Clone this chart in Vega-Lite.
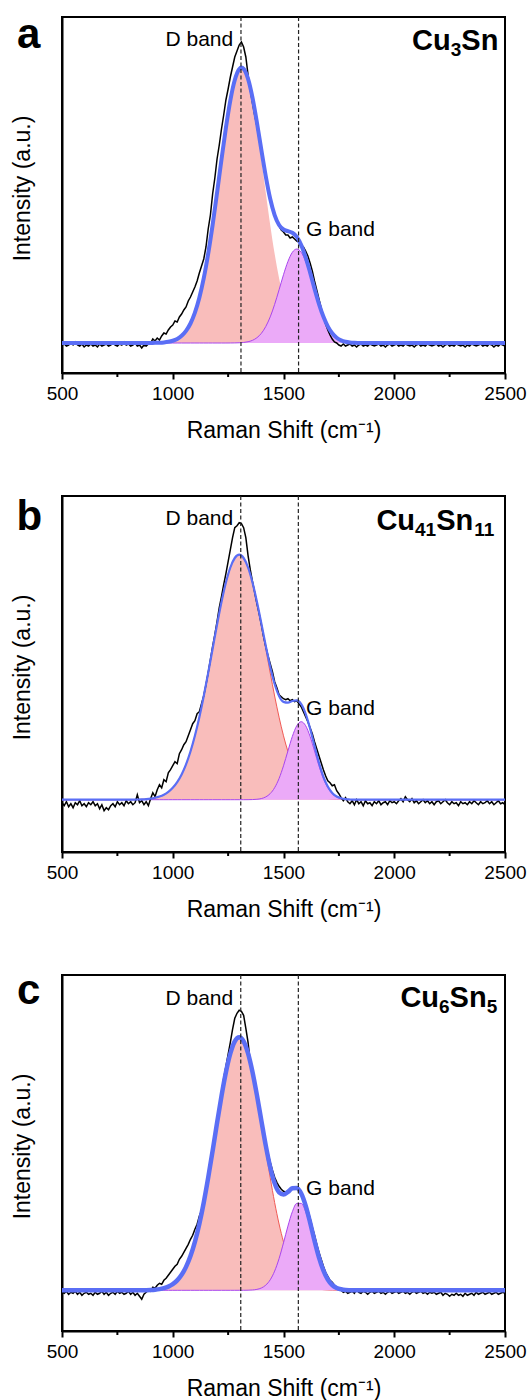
{
"$schema": "https://vega.github.io/schema/vega-lite/v6.json",
"padding": {"left": 10, "top": 13, "right": 5, "bottom": 5},
"background": "white",
"config": {
  "view": {"stroke": "black", "strokeWidth": 2},
  "font": "Liberation Sans",
  "numberFormat": "d",
  "axisX": {"grid": false, "tickCount": 4, "tickSize": 6, "tickWidth": 2, "tickColor": "black", "domainColor": "black", "domainWidth": 2, "labelFont": "Liberation Sans", "labelFontSize": 19, "labelColor": "black", "labelFlush": false, "labelOverlap": false, "labelPadding": 5, "titleFont": "Liberation Sans", "titleFontSize": 23, "titleFontWeight": "normal", "titleColor": "black", "titleBaseline": "alphabetic", "titleY": 64},
  "axisY": {"grid": false, "labels": false, "ticks": false, "domainColor": "black", "domainWidth": 2, "titleFont": "Liberation Sans", "titleFontSize": 23, "titleFontWeight": "normal", "titleColor": "black", "titleBaseline": "alphabetic", "titleX": -33, "titleY": 171}
},
"datasets": {
"a_raw": [{"x":500,"y":-2},{"x":510,"y":-1},{"x":520,"y":-3},{"x":530,"y":-2},{"x":540,"y":0},{"x":550,"y":-2},{"x":560,"y":1},{"x":570,"y":-2},{"x":580,"y":-3},{"x":590,"y":-1},{"x":600,"y":-4},{"x":610,"y":-2},{"x":620,"y":-3},{"x":630,"y":-1},{"x":640,"y":-3},{"x":650,"y":-2},{"x":660,"y":-4},{"x":670,"y":-1},{"x":680,"y":-3},{"x":690,"y":-2},{"x":700,"y":-1},{"x":710,"y":-3},{"x":720,"y":-2},{"x":730,"y":0},{"x":740,"y":-2},{"x":750,"y":-3},{"x":760,"y":-1},{"x":770,"y":-2},{"x":780,"y":1},{"x":790,"y":-2},{"x":800,"y":-1},{"x":810,"y":-3},{"x":820,"y":-2},{"x":830,"y":0},{"x":840,"y":-3},{"x":850,"y":-2},{"x":860,"y":-5},{"x":870,"y":-2},{"x":880,"y":-3},{"x":890,"y":-1},{"x":900,"y":0},{"x":910,"y":4},{"x":920,"y":2},{"x":930,"y":5},{"x":940,"y":3},{"x":950,"y":7},{"x":960,"y":10},{"x":970,"y":9},{"x":980,"y":13},{"x":990,"y":16},{"x":1000,"y":18},{"x":1010,"y":22},{"x":1020,"y":21},{"x":1030,"y":26},{"x":1040,"y":29},{"x":1050,"y":33},{"x":1060,"y":36},{"x":1070,"y":42},{"x":1080,"y":46},{"x":1090,"y":51},{"x":1100,"y":56},{"x":1110,"y":62},{"x":1120,"y":70},{"x":1130,"y":77},{"x":1140,"y":84},{"x":1150,"y":96},{"x":1160,"y":114},{"x":1170,"y":128},{"x":1180,"y":149},{"x":1190,"y":165},{"x":1200,"y":184},{"x":1210,"y":198},{"x":1220,"y":214},{"x":1230,"y":228},{"x":1240,"y":243},{"x":1250,"y":254},{"x":1260,"y":266},{"x":1270,"y":276},{"x":1280,"y":286},{"x":1290,"y":292},{"x":1300,"y":298},{"x":1310,"y":301},{"x":1320,"y":296},{"x":1330,"y":286},{"x":1340,"y":268},{"x":1350,"y":253},{"x":1360,"y":240},{"x":1370,"y":228},{"x":1380,"y":217},{"x":1390,"y":204},{"x":1400,"y":191},{"x":1410,"y":178},{"x":1420,"y":166},{"x":1430,"y":155},{"x":1440,"y":146},{"x":1450,"y":136},{"x":1460,"y":128},{"x":1470,"y":122},{"x":1480,"y":117},{"x":1490,"y":113},{"x":1500,"y":111},{"x":1510,"y":108},{"x":1520,"y":108},{"x":1530,"y":105},{"x":1540,"y":106},{"x":1550,"y":104},{"x":1560,"y":102},{"x":1570,"y":101},{"x":1580,"y":98},{"x":1590,"y":96},{"x":1600,"y":92},{"x":1610,"y":87},{"x":1620,"y":80},{"x":1630,"y":72},{"x":1640,"y":62},{"x":1650,"y":53},{"x":1660,"y":44},{"x":1670,"y":35},{"x":1680,"y":27},{"x":1690,"y":19},{"x":1700,"y":13},{"x":1710,"y":8},{"x":1720,"y":4},{"x":1730,"y":1},{"x":1740,"y":0},{"x":1750,"y":-2},{"x":1760,"y":-3},{"x":1770,"y":-1},{"x":1780,"y":-3},{"x":1790,"y":-2},{"x":1800,"y":-1},{"x":1810,"y":-3},{"x":1820,"y":-2},{"x":1830,"y":-4},{"x":1840,"y":-2},{"x":1850,"y":-1},{"x":1860,"y":-3},{"x":1870,"y":-2},{"x":1880,"y":-3},{"x":1890,"y":-1},{"x":1900,"y":-2},{"x":1910,"y":-3},{"x":1920,"y":-2},{"x":1930,"y":-1},{"x":1940,"y":-3},{"x":1950,"y":-2},{"x":1960,"y":-4},{"x":1970,"y":-2},{"x":1980,"y":-1},{"x":1990,"y":-3},{"x":2000,"y":-2},{"x":2010,"y":-1},{"x":2020,"y":-3},{"x":2030,"y":-2},{"x":2040,"y":-3},{"x":2050,"y":-1},{"x":2060,"y":-2},{"x":2070,"y":-3},{"x":2080,"y":-2},{"x":2090,"y":-4},{"x":2100,"y":-2},{"x":2110,"y":-1},{"x":2120,"y":-3},{"x":2130,"y":-2},{"x":2140,"y":-3},{"x":2150,"y":-1},{"x":2160,"y":-2},{"x":2170,"y":-3},{"x":2180,"y":-2},{"x":2190,"y":-1},{"x":2200,"y":-3},{"x":2210,"y":-2},{"x":2220,"y":-4},{"x":2230,"y":-2},{"x":2240,"y":-1},{"x":2250,"y":-3},{"x":2260,"y":-2},{"x":2270,"y":-3},{"x":2280,"y":-1},{"x":2290,"y":-2},{"x":2300,"y":-3},{"x":2310,"y":-2},{"x":2320,"y":-4},{"x":2330,"y":-2},{"x":2340,"y":-3},{"x":2350,"y":-1},{"x":2360,"y":-2},{"x":2370,"y":-3},{"x":2380,"y":-2},{"x":2390,"y":-1},{"x":2400,"y":-3},{"x":2410,"y":-2},{"x":2420,"y":-3},{"x":2430,"y":-1},{"x":2440,"y":-2},{"x":2450,"y":-4},{"x":2460,"y":-2},{"x":2470,"y":-3},{"x":2480,"y":-1},{"x":2490,"y":-2},{"x":2500,"y":-3}],
"b_raw": [{"x":500,"y":-3},{"x":510,"y":-6},{"x":520,"y":-2},{"x":530,"y":-7},{"x":540,"y":-4},{"x":550,"y":-8},{"x":560,"y":-3},{"x":570,"y":-5},{"x":580,"y":-1},{"x":590,"y":-6},{"x":600,"y":-4},{"x":610,"y":-7},{"x":620,"y":-3},{"x":630,"y":-5},{"x":640,"y":-2},{"x":650,"y":-6},{"x":660,"y":-4},{"x":670,"y":-9},{"x":680,"y":-5},{"x":690,"y":-11},{"x":700,"y":-8},{"x":710,"y":-10},{"x":720,"y":-6},{"x":730,"y":-4},{"x":740,"y":-7},{"x":750,"y":-2},{"x":760,"y":-5},{"x":770,"y":-3},{"x":780,"y":-6},{"x":790,"y":-1},{"x":800,"y":-4},{"x":810,"y":-2},{"x":820,"y":-5},{"x":830,"y":-3},{"x":840,"y":5},{"x":850,"y":-3},{"x":860,"y":-1},{"x":870,"y":-5},{"x":880,"y":-2},{"x":890,"y":-6},{"x":900,"y":1},{"x":910,"y":7},{"x":920,"y":3},{"x":930,"y":10},{"x":940,"y":15},{"x":950,"y":12},{"x":960,"y":20},{"x":970,"y":18},{"x":980,"y":27},{"x":990,"y":30},{"x":1000,"y":34},{"x":1010,"y":38},{"x":1020,"y":36},{"x":1030,"y":46},{"x":1040,"y":50},{"x":1050,"y":55},{"x":1060,"y":58},{"x":1070,"y":64},{"x":1080,"y":70},{"x":1090,"y":76},{"x":1100,"y":79},{"x":1110,"y":86},{"x":1120,"y":88},{"x":1130,"y":96},{"x":1140,"y":104},{"x":1150,"y":115},{"x":1160,"y":127},{"x":1170,"y":140},{"x":1180,"y":153},{"x":1190,"y":165},{"x":1200,"y":178},{"x":1210,"y":192},{"x":1220,"y":203},{"x":1230,"y":215},{"x":1240,"y":226},{"x":1250,"y":238},{"x":1260,"y":250},{"x":1270,"y":262},{"x":1280,"y":272},{"x":1290,"y":274},{"x":1300,"y":277},{"x":1310,"y":276},{"x":1320,"y":272},{"x":1330,"y":262},{"x":1340,"y":244},{"x":1350,"y":230},{"x":1360,"y":218},{"x":1370,"y":207},{"x":1380,"y":196},{"x":1390,"y":186},{"x":1400,"y":175},{"x":1410,"y":163},{"x":1420,"y":153},{"x":1430,"y":144},{"x":1440,"y":136},{"x":1450,"y":128},{"x":1460,"y":118},{"x":1470,"y":112},{"x":1480,"y":105},{"x":1490,"y":103},{"x":1500,"y":101},{"x":1510,"y":100},{"x":1520,"y":101},{"x":1530,"y":99},{"x":1540,"y":100},{"x":1550,"y":98},{"x":1560,"y":99},{"x":1570,"y":96},{"x":1580,"y":93},{"x":1590,"y":88},{"x":1600,"y":83},{"x":1610,"y":78},{"x":1620,"y":72},{"x":1630,"y":66},{"x":1640,"y":58},{"x":1650,"y":51},{"x":1660,"y":44},{"x":1670,"y":37},{"x":1680,"y":30},{"x":1690,"y":24},{"x":1700,"y":19},{"x":1710,"y":17},{"x":1720,"y":14},{"x":1730,"y":15},{"x":1740,"y":9},{"x":1750,"y":6},{"x":1760,"y":2},{"x":1770,"y":-1},{"x":1780,"y":2},{"x":1790,"y":-2},{"x":1800,"y":-4},{"x":1810,"y":-1},{"x":1820,"y":-5},{"x":1830,"y":0},{"x":1840,"y":-4},{"x":1850,"y":-2},{"x":1860,"y":-6},{"x":1870,"y":-1},{"x":1880,"y":-4},{"x":1890,"y":-3},{"x":1900,"y":-6},{"x":1910,"y":-2},{"x":1920,"y":-4},{"x":1930,"y":-1},{"x":1940,"y":-5},{"x":1950,"y":-3},{"x":1960,"y":-2},{"x":1970,"y":-5},{"x":1980,"y":-1},{"x":1990,"y":-3},{"x":2000,"y":-2},{"x":2010,"y":-4},{"x":2020,"y":-1},{"x":2030,"y":1},{"x":2040,"y":-2},{"x":2050,"y":3},{"x":2060,"y":0},{"x":2070,"y":-2},{"x":2080,"y":1},{"x":2090,"y":-3},{"x":2100,"y":-1},{"x":2110,"y":-4},{"x":2120,"y":-2},{"x":2130,"y":0},{"x":2140,"y":-3},{"x":2150,"y":-1},{"x":2160,"y":-4},{"x":2170,"y":-2},{"x":2180,"y":-5},{"x":2190,"y":-2},{"x":2200,"y":-1},{"x":2210,"y":-4},{"x":2220,"y":-2},{"x":2230,"y":0},{"x":2240,"y":-3},{"x":2250,"y":-5},{"x":2260,"y":-2},{"x":2270,"y":-4},{"x":2280,"y":-3},{"x":2290,"y":-6},{"x":2300,"y":-2},{"x":2310,"y":-4},{"x":2320,"y":-3},{"x":2330,"y":-5},{"x":2340,"y":-2},{"x":2350,"y":-4},{"x":2360,"y":-1},{"x":2370,"y":-3},{"x":2380,"y":-5},{"x":2390,"y":-2},{"x":2400,"y":-4},{"x":2410,"y":-3},{"x":2420,"y":-1},{"x":2430,"y":-4},{"x":2440,"y":-2},{"x":2450,"y":-5},{"x":2460,"y":-3},{"x":2470,"y":-1},{"x":2480,"y":-4},{"x":2490,"y":-3},{"x":2500,"y":-5}],
"c_raw": [{"x":500,"y":-2},{"x":510,"y":-3},{"x":520,"y":-1},{"x":530,"y":-4},{"x":540,"y":-2},{"x":550,"y":-3},{"x":560,"y":-1},{"x":570,"y":-4},{"x":580,"y":-2},{"x":590,"y":-5},{"x":600,"y":-3},{"x":610,"y":-2},{"x":620,"y":-4},{"x":630,"y":-3},{"x":640,"y":-5},{"x":650,"y":-2},{"x":660,"y":-4},{"x":670,"y":-3},{"x":680,"y":-1},{"x":690,"y":-4},{"x":700,"y":-2},{"x":710,"y":-5},{"x":720,"y":-3},{"x":730,"y":-2},{"x":740,"y":-4},{"x":750,"y":-1},{"x":760,"y":-3},{"x":770,"y":-2},{"x":780,"y":-4},{"x":790,"y":-3},{"x":800,"y":-1},{"x":810,"y":-4},{"x":820,"y":-2},{"x":830,"y":-5},{"x":840,"y":-3},{"x":850,"y":-6},{"x":860,"y":-9},{"x":870,"y":-4},{"x":880,"y":-2},{"x":890,"y":0},{"x":900,"y":-1},{"x":910,"y":3},{"x":920,"y":2},{"x":930,"y":5},{"x":940,"y":7},{"x":950,"y":6},{"x":960,"y":10},{"x":970,"y":12},{"x":980,"y":15},{"x":990,"y":18},{"x":1000,"y":21},{"x":1010,"y":24},{"x":1020,"y":26},{"x":1030,"y":31},{"x":1040,"y":34},{"x":1050,"y":38},{"x":1060,"y":42},{"x":1070,"y":46},{"x":1080,"y":51},{"x":1090,"y":55},{"x":1100,"y":61},{"x":1110,"y":66},{"x":1120,"y":74},{"x":1130,"y":80},{"x":1140,"y":89},{"x":1150,"y":101},{"x":1160,"y":114},{"x":1170,"y":127},{"x":1180,"y":141},{"x":1190,"y":156},{"x":1200,"y":170},{"x":1210,"y":184},{"x":1220,"y":198},{"x":1230,"y":212},{"x":1240,"y":224},{"x":1250,"y":236},{"x":1260,"y":248},{"x":1270,"y":261},{"x":1280,"y":272},{"x":1290,"y":277},{"x":1300,"y":280},{"x":1310,"y":279},{"x":1320,"y":275},{"x":1330,"y":262},{"x":1340,"y":248},{"x":1350,"y":228},{"x":1360,"y":218},{"x":1370,"y":206},{"x":1380,"y":195},{"x":1390,"y":183},{"x":1400,"y":170},{"x":1410,"y":158},{"x":1420,"y":147},{"x":1430,"y":137},{"x":1440,"y":128},{"x":1450,"y":120},{"x":1460,"y":113},{"x":1470,"y":108},{"x":1480,"y":104},{"x":1490,"y":101},{"x":1500,"y":99},{"x":1510,"y":98},{"x":1520,"y":99},{"x":1530,"y":100},{"x":1540,"y":101},{"x":1550,"y":102},{"x":1560,"y":101},{"x":1570,"y":100},{"x":1580,"y":97},{"x":1590,"y":93},{"x":1600,"y":87},{"x":1610,"y":80},{"x":1620,"y":72},{"x":1630,"y":63},{"x":1640,"y":55},{"x":1650,"y":46},{"x":1660,"y":38},{"x":1670,"y":31},{"x":1680,"y":24},{"x":1690,"y":18},{"x":1700,"y":14},{"x":1710,"y":10},{"x":1720,"y":8},{"x":1730,"y":5},{"x":1740,"y":3},{"x":1750,"y":1},{"x":1760,"y":0},{"x":1770,"y":-2},{"x":1780,"y":-1},{"x":1790,"y":-3},{"x":1800,"y":-2},{"x":1810,"y":-1},{"x":1820,"y":-3},{"x":1830,"y":1},{"x":1840,"y":-2},{"x":1850,"y":-3},{"x":1860,"y":-1},{"x":1870,"y":-2},{"x":1880,"y":-4},{"x":1890,"y":-2},{"x":1900,"y":-1},{"x":1910,"y":-3},{"x":1920,"y":-2},{"x":1930,"y":-1},{"x":1940,"y":-3},{"x":1950,"y":-2},{"x":1960,"y":-4},{"x":1970,"y":-2},{"x":1980,"y":-1},{"x":1990,"y":-3},{"x":2000,"y":-2},{"x":2010,"y":-1},{"x":2020,"y":-3},{"x":2030,"y":-2},{"x":2040,"y":-1},{"x":2050,"y":-3},{"x":2060,"y":-2},{"x":2070,"y":-4},{"x":2080,"y":-2},{"x":2090,"y":-1},{"x":2100,"y":-3},{"x":2110,"y":-2},{"x":2120,"y":-1},{"x":2130,"y":-3},{"x":2140,"y":-2},{"x":2150,"y":-4},{"x":2160,"y":-2},{"x":2170,"y":-3},{"x":2180,"y":-2},{"x":2190,"y":-4},{"x":2200,"y":-3},{"x":2210,"y":-2},{"x":2220,"y":-5},{"x":2230,"y":-3},{"x":2240,"y":-4},{"x":2250,"y":-6},{"x":2260,"y":-4},{"x":2270,"y":-5},{"x":2280,"y":-3},{"x":2290,"y":-5},{"x":2300,"y":-4},{"x":2310,"y":-6},{"x":2320,"y":-3},{"x":2330,"y":-5},{"x":2340,"y":-4},{"x":2350,"y":-3},{"x":2360,"y":-5},{"x":2370,"y":-2},{"x":2380,"y":-4},{"x":2390,"y":-3},{"x":2400,"y":-2},{"x":2410,"y":-4},{"x":2420,"y":-3},{"x":2430,"y":-2},{"x":2440,"y":-4},{"x":2450,"y":-3},{"x":2460,"y":-2},{"x":2470,"y":-4},{"x":2480,"y":-3},{"x":2490,"y":-2},{"x":2500,"y":-3}],
"a_fit": [{"x":500,"d":0,"g":0,"fit":0},{"x":600,"d":0,"g":0,"fit":0},{"x":700,"d":0,"g":0,"fit":0},{"x":800,"d":0,"g":0,"fit":0},{"x":860,"d":0,"g":0,"fit":0},{"x":880,"d":0.03,"g":0,"fit":0.03},{"x":900,"d":0.06,"g":0,"fit":0.06},{"x":920,"d":0.14,"g":0,"fit":0.14},{"x":940,"d":0.29,"g":0,"fit":0.29},{"x":960,"d":0.6,"g":0,"fit":0.6},{"x":980,"d":1.19,"g":0,"fit":1.19},{"x":1000,"d":2.25,"g":0,"fit":2.25},{"x":1020,"d":4.1,"g":0,"fit":4.1},{"x":1040,"d":7.18,"g":0,"fit":7.18},{"x":1060,"d":12.1,"g":0,"fit":12.1},{"x":1080,"d":19.5,"g":0,"fit":19.5},{"x":1100,"d":30.3,"g":0,"fit":30.3},{"x":1120,"d":45.2,"g":0,"fit":45.2},{"x":1140,"d":64.8,"g":0,"fit":64.8},{"x":1160,"d":89.3,"g":0,"fit":89.3},{"x":1180,"d":118.1,"g":0,"fit":118.1},{"x":1200,"d":150.2,"g":0,"fit":150.2},{"x":1220,"d":183.4,"g":0,"fit":183.4},{"x":1240,"d":215.2,"g":0,"fit":215.2},{"x":1260,"d":242.7,"g":0.03,"fit":242.7},{"x":1280,"d":262.9,"g":0.09,"fit":263},{"x":1300,"d":273.6,"g":0.23,"fit":273.8},{"x":1310,"d":275,"g":0.36,"fit":275.4},{"x":1320,"d":273.6,"g":0.56,"fit":274.2},{"x":1340,"d":262.9,"g":1.27,"fit":264.2},{"x":1360,"d":242.7,"g":2.68,"fit":245.4},{"x":1380,"d":215.2,"g":5.27,"fit":220.5},{"x":1400,"d":183.4,"g":9.65,"fit":193.1},{"x":1420,"d":150.2,"g":16.5,"fit":166.7},{"x":1440,"d":118.1,"g":26.1,"fit":144.2},{"x":1460,"d":89.3,"g":38.6,"fit":127.9},{"x":1480,"d":64.8,"g":53.2,"fit":118},{"x":1500,"d":45.2,"g":68.3,"fit":113.5},{"x":1520,"d":30.3,"g":81.5,"fit":111.8},{"x":1540,"d":19.5,"g":90.7,"fit":110.2},{"x":1560,"d":12.1,"g":94,"fit":106.1},{"x":1580,"d":7.18,"g":90.7,"fit":97.9},{"x":1600,"d":4.1,"g":81.5,"fit":85.6},{"x":1620,"d":2.25,"g":68.3,"fit":70.6},{"x":1640,"d":1.19,"g":53.2,"fit":54.4},{"x":1660,"d":0.6,"g":38.6,"fit":39.2},{"x":1680,"d":0.29,"g":26.1,"fit":26.4},{"x":1700,"d":0.14,"g":16.5,"fit":16.6},{"x":1720,"d":0.06,"g":9.65,"fit":9.7},{"x":1740,"d":0.03,"g":5.27,"fit":5.3},{"x":1760,"d":0,"g":2.68,"fit":2.68},{"x":1780,"d":0,"g":1.27,"fit":1.27},{"x":1800,"d":0,"g":0.56,"fit":0.56},{"x":1820,"d":0,"g":0.23,"fit":0.23},{"x":1840,"d":0,"g":0.09,"fit":0.09},{"x":1860,"d":0,"g":0,"fit":0},{"x":1900,"d":0,"g":0,"fit":0},{"x":2000,"d":0,"g":0,"fit":0},{"x":2100,"d":0,"g":0,"fit":0},{"x":2200,"d":0,"g":0,"fit":0},{"x":2300,"d":0,"g":0,"fit":0},{"x":2400,"d":0,"g":0,"fit":0},{"x":2500,"d":0,"g":0,"fit":0}],
"b_fit": [{"x":500,"d":0,"g":0,"fit":0},{"x":600,"d":0,"g":0,"fit":0},{"x":700,"d":0,"g":0,"fit":0},{"x":780,"d":0,"g":0,"fit":0},{"x":800,"d":0.05,"g":0,"fit":0.05},{"x":820,"d":0.11,"g":0,"fit":0.11},{"x":840,"d":0.2,"g":0,"fit":0.2},{"x":860,"d":0.37,"g":0,"fit":0.37},{"x":880,"d":0.65,"g":0,"fit":0.65},{"x":900,"d":1.13,"g":0,"fit":1.13},{"x":920,"d":1.92,"g":0,"fit":1.92},{"x":940,"d":3.15,"g":0,"fit":3.15},{"x":960,"d":5.04,"g":0,"fit":5.04},{"x":980,"d":7.86,"g":0,"fit":7.86},{"x":1000,"d":11.9,"g":0,"fit":11.9},{"x":1020,"d":17.6,"g":0,"fit":17.6},{"x":1040,"d":25.3,"g":0,"fit":25.3},{"x":1060,"d":35.4,"g":0,"fit":35.4},{"x":1080,"d":48.2,"g":0,"fit":48.2},{"x":1100,"d":63.9,"g":0,"fit":63.9},{"x":1120,"d":82.5,"g":0,"fit":82.5},{"x":1140,"d":103.7,"g":0,"fit":103.7},{"x":1160,"d":126.8,"g":0,"fit":126.8},{"x":1180,"d":151,"g":0,"fit":151},{"x":1200,"d":175.1,"g":0,"fit":175.1},{"x":1220,"d":197.6,"g":0,"fit":197.6},{"x":1240,"d":217.1,"g":0,"fit":217.1},{"x":1260,"d":232.2,"g":0,"fit":232.2},{"x":1280,"d":241.7,"g":0,"fit":241.7},{"x":1300,"d":245,"g":0,"fit":245},{"x":1320,"d":241.7,"g":0,"fit":241.7},{"x":1340,"d":232.2,"g":0.04,"fit":232.2},{"x":1360,"d":217.1,"g":0.14,"fit":217.2},{"x":1380,"d":197.6,"g":0.43,"fit":198},{"x":1400,"d":175.1,"g":1.15,"fit":176.3},{"x":1420,"d":151,"g":2.79,"fit":153.8},{"x":1440,"d":126.8,"g":6.09,"fit":132.9},{"x":1460,"d":103.7,"g":12,"fit":115.7},{"x":1480,"d":82.5,"g":21.2,"fit":103.7},{"x":1500,"d":63.9,"g":33.9,"fit":97.8},{"x":1520,"d":48.2,"g":48.8,"fit":97},{"x":1540,"d":35.4,"g":63.3,"fit":98.7},{"x":1560,"d":25.3,"g":74,"fit":99.3},{"x":1580,"d":17.6,"g":78,"fit":95.6},{"x":1600,"d":11.9,"g":74,"fit":85.9},{"x":1620,"d":7.86,"g":63.3,"fit":71.2},{"x":1640,"d":5.04,"g":48.8,"fit":53.8},{"x":1660,"d":3.15,"g":33.9,"fit":37.1},{"x":1680,"d":1.92,"g":21.2,"fit":23.1},{"x":1700,"d":1.13,"g":12,"fit":13.1},{"x":1720,"d":0.65,"g":6.09,"fit":6.7},{"x":1740,"d":0.37,"g":2.79,"fit":3.2},{"x":1760,"d":0.2,"g":1.15,"fit":1.4},{"x":1780,"d":0.11,"g":0.43,"fit":0.5},{"x":1800,"d":0.05,"g":0.14,"fit":0.2},{"x":1820,"d":0.02,"g":0.04,"fit":0.1},{"x":1840,"d":0,"g":0,"fit":0},{"x":1900,"d":0,"g":0,"fit":0},{"x":2000,"d":0,"g":0,"fit":0},{"x":2100,"d":0,"g":0,"fit":0},{"x":2200,"d":0,"g":0,"fit":0},{"x":2300,"d":0,"g":0,"fit":0},{"x":2400,"d":0,"g":0,"fit":0},{"x":2500,"d":0,"g":0,"fit":0}],
"c_fit": [{"x":500,"d":0,"g":0,"fit":0},{"x":600,"d":0,"g":0,"fit":0},{"x":700,"d":0,"g":0,"fit":0},{"x":800,"d":0,"g":0,"fit":0},{"x":820,"d":0,"g":0,"fit":0},{"x":840,"d":0.04,"g":0,"fit":0.04},{"x":860,"d":0.08,"g":0,"fit":0.08},{"x":880,"d":0.17,"g":0,"fit":0.17},{"x":900,"d":0.34,"g":0,"fit":0.34},{"x":920,"d":0.65,"g":0,"fit":0.65},{"x":940,"d":1.19,"g":0,"fit":1.19},{"x":960,"d":2.13,"g":0,"fit":2.13},{"x":980,"d":3.68,"g":0,"fit":3.68},{"x":1000,"d":6.14,"g":0,"fit":6.14},{"x":1020,"d":9.91,"g":0,"fit":9.91},{"x":1040,"d":15.5,"g":0,"fit":15.5},{"x":1060,"d":23.4,"g":0,"fit":23.4},{"x":1080,"d":34.2,"g":0,"fit":34.2},{"x":1100,"d":48.4,"g":0,"fit":48.4},{"x":1120,"d":66.3,"g":0,"fit":66.3},{"x":1140,"d":87.8,"g":0,"fit":87.8},{"x":1160,"d":112.6,"g":0,"fit":112.6},{"x":1180,"d":139.5,"g":0,"fit":139.5},{"x":1200,"d":167.4,"g":0,"fit":167.4},{"x":1220,"d":194.2,"g":0,"fit":194.2},{"x":1240,"d":218,"g":0,"fit":218},{"x":1260,"d":236.8,"g":0,"fit":236.8},{"x":1280,"d":248.9,"g":0,"fit":248.9},{"x":1300,"d":253,"g":0.01,"fit":253},{"x":1320,"d":248.9,"g":0.03,"fit":248.9},{"x":1340,"d":236.8,"g":0.11,"fit":236.9},{"x":1360,"d":218,"g":0.34,"fit":218.3},{"x":1380,"d":194.2,"g":0.93,"fit":195.1},{"x":1400,"d":167.4,"g":2.31,"fit":169.7},{"x":1420,"d":139.5,"g":5.17,"fit":144.7},{"x":1440,"d":112.6,"g":10.5,"fit":123.1},{"x":1460,"d":87.8,"g":19.2,"fit":107},{"x":1480,"d":66.3,"g":31.7,"fit":98},{"x":1500,"d":48.4,"g":47.5,"fit":95.9},{"x":1520,"d":34.2,"g":64.2,"fit":98.4},{"x":1540,"d":23.4,"g":78.6,"fit":102},{"x":1560,"d":15.5,"g":86.9,"fit":102.4},{"x":1580,"d":9.91,"g":86.9,"fit":96.8},{"x":1600,"d":6.14,"g":78.6,"fit":84.7},{"x":1620,"d":3.68,"g":64.2,"fit":67.9},{"x":1640,"d":2.13,"g":47.5,"fit":49.6},{"x":1660,"d":1.19,"g":31.7,"fit":32.9},{"x":1680,"d":0.65,"g":19.2,"fit":19.9},{"x":1700,"d":0.34,"g":10.5,"fit":10.8},{"x":1720,"d":0.17,"g":5.17,"fit":5.3},{"x":1740,"d":0.08,"g":2.31,"fit":2.4},{"x":1760,"d":0.04,"g":0.93,"fit":1},{"x":1780,"d":0,"g":0.34,"fit":0.3},{"x":1800,"d":0,"g":0.11,"fit":0.1},{"x":1820,"d":0,"g":0.03,"fit":0},{"x":1840,"d":0,"g":0,"fit":0},{"x":1900,"d":0,"g":0,"fit":0},{"x":2000,"d":0,"g":0,"fit":0},{"x":2100,"d":0,"g":0,"fit":0},{"x":2200,"d":0,"g":0,"fit":0},{"x":2300,"d":0,"g":0,"fit":0},{"x":2400,"d":0,"g":0,"fit":0},{"x":2500,"d":0,"g":0,"fit":0}],
"minor": [{"x":750},{"x":1250},{"x":1750},{"x":2250}]
},
"spacing": 123,
"bounds": "flush",
"vconcat": [
{
 "width": 443, "height": 356,
 "layer": [
  {"data": {"name": "a_fit"}, "mark": {"type": "area", "color": "#F9BDBB", "opacity": 1, "interpolate": "monotone"}, "encoding": {"x": {"field": "x", "type": "quantitative", "scale": {"domain": [500, 2500], "nice": false, "zero": false}, "title": "Raman Shift (cm\u207B\u00B9)"}, "y": {"field": "d", "type": "quantitative", "scale": {"domain": [-30, 326], "nice": false, "zero": false}, "title": "Intensity (a.u.)"}, "y2": {"datum": 0}}},
  {"data": {"name": "a_fit"}, "mark": {"type": "area", "color": "#EBAAF8", "opacity": 1, "interpolate": "monotone", "line": {"color": "#A845EE", "strokeWidth": 1}}, "encoding": {"x": {"field": "x", "type": "quantitative", "scale": {"domain": [500, 2500], "nice": false, "zero": false}, "title": "Raman Shift (cm\u207B\u00B9)"}, "y": {"field": "g", "type": "quantitative", "scale": {"domain": [-30, 326], "nice": false, "zero": false}, "title": "Intensity (a.u.)"}, "y2": {"datum": 0}}},
  {"data": {"name": "a_raw"}, "mark": {"type": "line", "color": "black", "strokeWidth": 1.5}, "encoding": {"x": {"field": "x", "type": "quantitative", "scale": {"domain": [500, 2500], "nice": false, "zero": false}, "title": "Raman Shift (cm\u207B\u00B9)"}, "y": {"field": "y", "type": "quantitative", "scale": {"domain": [-30, 326], "nice": false, "zero": false}, "title": "Intensity (a.u.)"}}},
  {"data": {"name": "a_fit"}, "mark": {"type": "line", "color": "#5A6EF5", "strokeWidth": 4, "interpolate": "monotone"}, "encoding": {"x": {"field": "x", "type": "quantitative", "scale": {"domain": [500, 2500], "nice": false, "zero": false}, "title": "Raman Shift (cm\u207B\u00B9)"}, "y": {"field": "fit", "type": "quantitative", "scale": {"domain": [-30, 326], "nice": false, "zero": false}, "title": "Intensity (a.u.)"}}},
  {"data": {"values": [{"x": 1308}, {"x": 1568}]}, "mark": {"type": "rule", "color": "#222222", "strokeWidth": 1.2, "strokeDash": [4, 2.5]}, "encoding": {"x": {"field": "x", "type": "quantitative", "scale": {"domain": [500, 2500], "nice": false, "zero": false}, "title": "Raman Shift (cm\u207B\u00B9)"}}},
  {"data": {"name": "minor"}, "mark": {"type": "rule", "color": "black", "strokeWidth": 2}, "encoding": {"x": {"field": "x", "type": "quantitative", "scale": {"domain": [500, 2500], "nice": false, "zero": false}, "title": "Raman Shift (cm\u207B\u00B9)"}, "y": {"datum": -30, "type": "quantitative", "scale": {"domain": [-30, 326], "nice": false, "zero": false}, "title": "Intensity (a.u.)"}, "y2": {"datum": -34}}},
  {"data": {"values": [{}]}, "mark": {"type": "text", "text": "a", "fontSize": 42, "fontWeight": "bold", "align": "center", "baseline": "alphabetic", "color": "black"}, "encoding": {"x": {"datum": 350, "type": "quantitative", "scale": {"domain": [500, 2500], "nice": false, "zero": false}, "title": "Raman Shift (cm\u207B\u00B9)"}, "y": {"datum": 295, "type": "quantitative", "scale": {"domain": [-30, 326], "nice": false, "zero": false}, "title": "Intensity (a.u.)"}}},
  {"data": {"values": [{}]}, "mark": {"type": "text", "text": "D band", "fontSize": 21, "align": "right", "baseline": "alphabetic", "color": "black"}, "encoding": {"x": {"datum": 1273, "type": "quantitative", "scale": {"domain": [500, 2500], "nice": false, "zero": false}, "title": "Raman Shift (cm\u207B\u00B9)"}, "y": {"datum": 297.3, "type": "quantitative", "scale": {"domain": [-30, 326], "nice": false, "zero": false}, "title": "Intensity (a.u.)"}}},
  {"data": {"values": [{}]}, "mark": {"type": "text", "text": "G band", "fontSize": 21, "align": "left", "baseline": "alphabetic", "color": "black"}, "encoding": {"x": {"datum": 1602, "type": "quantitative", "scale": {"domain": [500, 2500], "nice": false, "zero": false}, "title": "Raman Shift (cm\u207B\u00B9)"}, "y": {"datum": 106.7, "type": "quantitative", "scale": {"domain": [-30, 326], "nice": false, "zero": false}, "title": "Intensity (a.u.)"}}},
  {"data": {"values": [{}]}, "mark": {"type": "text", "text": "Sn", "fontSize": 29, "fontWeight": "bold", "align": "right", "baseline": "alphabetic", "color": "black"}, "encoding": {"x": {"datum": 2470, "type": "quantitative", "scale": {"domain": [500, 2500], "nice": false, "zero": false}, "title": "Raman Shift (cm\u207B\u00B9)"}, "y": {"datum": 293, "type": "quantitative", "scale": {"domain": [-30, 326], "nice": false, "zero": false}, "title": "Intensity (a.u.)"}}},
  {"data": {"values": [{}]}, "mark": {"type": "text", "text": "3", "fontSize": 19, "fontWeight": "bold", "align": "right", "baseline": "alphabetic", "color": "black", "dx": -37, "dy": 6}, "encoding": {"x": {"datum": 2470, "type": "quantitative", "scale": {"domain": [500, 2500], "nice": false, "zero": false}, "title": "Raman Shift (cm\u207B\u00B9)"}, "y": {"datum": 293, "type": "quantitative", "scale": {"domain": [-30, 326], "nice": false, "zero": false}, "title": "Intensity (a.u.)"}}},
  {"data": {"values": [{}]}, "mark": {"type": "text", "text": "Cu", "fontSize": 29, "fontWeight": "bold", "align": "right", "baseline": "alphabetic", "color": "black", "dx": -47.6}, "encoding": {"x": {"datum": 2470, "type": "quantitative", "scale": {"domain": [500, 2500], "nice": false, "zero": false}, "title": "Raman Shift (cm\u207B\u00B9)"}, "y": {"datum": 293, "type": "quantitative", "scale": {"domain": [-30, 326], "nice": false, "zero": false}, "title": "Intensity (a.u.)"}}}
 ]
},
{
 "width": 443, "height": 356,
 "layer": [
  {"data": {"name": "b_fit"}, "mark": {"type": "area", "color": "#F9BDBB", "opacity": 1, "interpolate": "monotone", "line": {"color": "#F05A55", "strokeWidth": 1}}, "encoding": {"x": {"field": "x", "type": "quantitative", "scale": {"domain": [500, 2500], "nice": false, "zero": false}, "title": "Raman Shift (cm\u207B\u00B9)"}, "y": {"field": "d", "type": "quantitative", "scale": {"domain": [-52.3, 303.7], "nice": false, "zero": false}, "title": "Intensity (a.u.)"}, "y2": {"datum": 0}}},
  {"data": {"name": "b_fit"}, "mark": {"type": "area", "color": "#EBAAF8", "opacity": 1, "interpolate": "monotone", "line": {"color": "#A845EE", "strokeWidth": 1}}, "encoding": {"x": {"field": "x", "type": "quantitative", "scale": {"domain": [500, 2500], "nice": false, "zero": false}, "title": "Raman Shift (cm\u207B\u00B9)"}, "y": {"field": "g", "type": "quantitative", "scale": {"domain": [-52.3, 303.7], "nice": false, "zero": false}, "title": "Intensity (a.u.)"}, "y2": {"datum": 0}}},
  {"data": {"name": "b_raw"}, "mark": {"type": "line", "color": "black", "strokeWidth": 1.5}, "encoding": {"x": {"field": "x", "type": "quantitative", "scale": {"domain": [500, 2500], "nice": false, "zero": false}, "title": "Raman Shift (cm\u207B\u00B9)"}, "y": {"field": "y", "type": "quantitative", "scale": {"domain": [-52.3, 303.7], "nice": false, "zero": false}, "title": "Intensity (a.u.)"}}},
  {"data": {"name": "b_fit"}, "mark": {"type": "line", "color": "#5A6EF5", "strokeWidth": 2.2, "interpolate": "monotone"}, "encoding": {"x": {"field": "x", "type": "quantitative", "scale": {"domain": [500, 2500], "nice": false, "zero": false}, "title": "Raman Shift (cm\u207B\u00B9)"}, "y": {"field": "fit", "type": "quantitative", "scale": {"domain": [-52.3, 303.7], "nice": false, "zero": false}, "title": "Intensity (a.u.)"}}},
  {"data": {"values": [{"x": 1307}, {"x": 1567}]}, "mark": {"type": "rule", "color": "#222222", "strokeWidth": 1.2, "strokeDash": [4, 2.5]}, "encoding": {"x": {"field": "x", "type": "quantitative", "scale": {"domain": [500, 2500], "nice": false, "zero": false}, "title": "Raman Shift (cm\u207B\u00B9)"}}},
  {"data": {"name": "minor"}, "mark": {"type": "rule", "color": "black", "strokeWidth": 2}, "encoding": {"x": {"field": "x", "type": "quantitative", "scale": {"domain": [500, 2500], "nice": false, "zero": false}, "title": "Raman Shift (cm\u207B\u00B9)"}, "y": {"datum": -52.3, "type": "quantitative", "scale": {"domain": [-52.3, 303.7], "nice": false, "zero": false}, "title": "Intensity (a.u.)"}, "y2": {"datum": -56.3}}},
  {"data": {"values": [{}]}, "mark": {"type": "text", "text": "b", "fontSize": 42, "fontWeight": "bold", "align": "center", "baseline": "alphabetic", "color": "black"}, "encoding": {"x": {"datum": 352, "type": "quantitative", "scale": {"domain": [500, 2500], "nice": false, "zero": false}, "title": "Raman Shift (cm\u207B\u00B9)"}, "y": {"datum": 269.4, "type": "quantitative", "scale": {"domain": [-52.3, 303.7], "nice": false, "zero": false}, "title": "Intensity (a.u.)"}}},
  {"data": {"values": [{}]}, "mark": {"type": "text", "text": "D band", "fontSize": 21, "align": "right", "baseline": "alphabetic", "color": "black"}, "encoding": {"x": {"datum": 1273, "type": "quantitative", "scale": {"domain": [500, 2500], "nice": false, "zero": false}, "title": "Raman Shift (cm\u207B\u00B9)"}, "y": {"datum": 275, "type": "quantitative", "scale": {"domain": [-52.3, 303.7], "nice": false, "zero": false}, "title": "Intensity (a.u.)"}}},
  {"data": {"values": [{}]}, "mark": {"type": "text", "text": "G band", "fontSize": 21, "align": "left", "baseline": "alphabetic", "color": "black"}, "encoding": {"x": {"datum": 1602, "type": "quantitative", "scale": {"domain": [500, 2500], "nice": false, "zero": false}, "title": "Raman Shift (cm\u207B\u00B9)"}, "y": {"datum": 84.4, "type": "quantitative", "scale": {"domain": [-52.3, 303.7], "nice": false, "zero": false}, "title": "Intensity (a.u.)"}}},
  {"data": {"values": [{}]}, "mark": {"type": "text", "text": "11", "fontSize": 19, "fontWeight": "bold", "align": "right", "baseline": "alphabetic", "color": "black", "dy": 6}, "encoding": {"x": {"datum": 2452, "type": "quantitative", "scale": {"domain": [500, 2500], "nice": false, "zero": false}, "title": "Raman Shift (cm\u207B\u00B9)"}, "y": {"datum": 269.4, "type": "quantitative", "scale": {"domain": [-52.3, 303.7], "nice": false, "zero": false}, "title": "Intensity (a.u.)"}}},
  {"data": {"values": [{}]}, "mark": {"type": "text", "text": "Sn", "fontSize": 29, "fontWeight": "bold", "align": "right", "baseline": "alphabetic", "color": "black", "dx": -21.1}, "encoding": {"x": {"datum": 2452, "type": "quantitative", "scale": {"domain": [500, 2500], "nice": false, "zero": false}, "title": "Raman Shift (cm\u207B\u00B9)"}, "y": {"datum": 269.4, "type": "quantitative", "scale": {"domain": [-52.3, 303.7], "nice": false, "zero": false}, "title": "Intensity (a.u.)"}}},
  {"data": {"values": [{}]}, "mark": {"type": "text", "text": "41", "fontSize": 19, "fontWeight": "bold", "align": "right", "baseline": "alphabetic", "color": "black", "dx": -58.2, "dy": 6}, "encoding": {"x": {"datum": 2452, "type": "quantitative", "scale": {"domain": [500, 2500], "nice": false, "zero": false}, "title": "Raman Shift (cm\u207B\u00B9)"}, "y": {"datum": 269.4, "type": "quantitative", "scale": {"domain": [-52.3, 303.7], "nice": false, "zero": false}, "title": "Intensity (a.u.)"}}},
  {"data": {"values": [{}]}, "mark": {"type": "text", "text": "Cu", "fontSize": 29, "fontWeight": "bold", "align": "right", "baseline": "alphabetic", "color": "black", "dx": -79.3}, "encoding": {"x": {"datum": 2452, "type": "quantitative", "scale": {"domain": [500, 2500], "nice": false, "zero": false}, "title": "Raman Shift (cm\u207B\u00B9)"}, "y": {"datum": 269.4, "type": "quantitative", "scale": {"domain": [-52.3, 303.7], "nice": false, "zero": false}, "title": "Intensity (a.u.)"}}}
 ]
},
{
 "width": 443, "height": 356,
 "layer": [
  {"data": {"name": "c_fit"}, "mark": {"type": "area", "color": "#F9BDBB", "opacity": 1, "interpolate": "monotone", "line": {"color": "#F05A55", "strokeWidth": 1}}, "encoding": {"x": {"field": "x", "type": "quantitative", "scale": {"domain": [500, 2500], "nice": false, "zero": false}, "title": "Raman Shift (cm\u207B\u00B9)"}, "y": {"field": "d", "type": "quantitative", "scale": {"domain": [-40.7, 315.3], "nice": false, "zero": false}, "title": "Intensity (a.u.)"}, "y2": {"datum": 0}}},
  {"data": {"name": "c_fit"}, "mark": {"type": "area", "color": "#EBAAF8", "opacity": 1, "interpolate": "monotone", "line": {"color": "#A845EE", "strokeWidth": 1}}, "encoding": {"x": {"field": "x", "type": "quantitative", "scale": {"domain": [500, 2500], "nice": false, "zero": false}, "title": "Raman Shift (cm\u207B\u00B9)"}, "y": {"field": "g", "type": "quantitative", "scale": {"domain": [-40.7, 315.3], "nice": false, "zero": false}, "title": "Intensity (a.u.)"}, "y2": {"datum": 0}}},
  {"data": {"name": "c_raw"}, "mark": {"type": "line", "color": "black", "strokeWidth": 1.5}, "encoding": {"x": {"field": "x", "type": "quantitative", "scale": {"domain": [500, 2500], "nice": false, "zero": false}, "title": "Raman Shift (cm\u207B\u00B9)"}, "y": {"field": "y", "type": "quantitative", "scale": {"domain": [-40.7, 315.3], "nice": false, "zero": false}, "title": "Intensity (a.u.)"}}},
  {"data": {"name": "c_fit"}, "mark": {"type": "line", "color": "#5A6EF5", "strokeWidth": 4.5, "interpolate": "monotone"}, "encoding": {"x": {"field": "x", "type": "quantitative", "scale": {"domain": [500, 2500], "nice": false, "zero": false}, "title": "Raman Shift (cm\u207B\u00B9)"}, "y": {"field": "fit", "type": "quantitative", "scale": {"domain": [-40.7, 315.3], "nice": false, "zero": false}, "title": "Intensity (a.u.)"}}},
  {"data": {"values": [{"x": 1307}, {"x": 1567}]}, "mark": {"type": "rule", "color": "#222222", "strokeWidth": 1.2, "strokeDash": [4, 2.5]}, "encoding": {"x": {"field": "x", "type": "quantitative", "scale": {"domain": [500, 2500], "nice": false, "zero": false}, "title": "Raman Shift (cm\u207B\u00B9)"}}},
  {"data": {"name": "minor"}, "mark": {"type": "rule", "color": "black", "strokeWidth": 2}, "encoding": {"x": {"field": "x", "type": "quantitative", "scale": {"domain": [500, 2500], "nice": false, "zero": false}, "title": "Raman Shift (cm\u207B\u00B9)"}, "y": {"datum": -40.7, "type": "quantitative", "scale": {"domain": [-40.7, 315.3], "nice": false, "zero": false}, "title": "Intensity (a.u.)"}, "y2": {"datum": -44.7}}},
  {"data": {"values": [{}]}, "mark": {"type": "text", "text": "c", "fontSize": 42, "fontWeight": "bold", "align": "center", "baseline": "alphabetic", "color": "black"}, "encoding": {"x": {"datum": 350, "type": "quantitative", "scale": {"domain": [500, 2500], "nice": false, "zero": false}, "title": "Raman Shift (cm\u207B\u00B9)"}, "y": {"datum": 286.6, "type": "quantitative", "scale": {"domain": [-40.7, 315.3], "nice": false, "zero": false}, "title": "Intensity (a.u.)"}}},
  {"data": {"values": [{}]}, "mark": {"type": "text", "text": "D band", "fontSize": 21, "align": "right", "baseline": "alphabetic", "color": "black"}, "encoding": {"x": {"datum": 1273, "type": "quantitative", "scale": {"domain": [500, 2500], "nice": false, "zero": false}, "title": "Raman Shift (cm\u207B\u00B9)"}, "y": {"datum": 285.6, "type": "quantitative", "scale": {"domain": [-40.7, 315.3], "nice": false, "zero": false}, "title": "Intensity (a.u.)"}}},
  {"data": {"values": [{}]}, "mark": {"type": "text", "text": "G band", "fontSize": 21, "align": "left", "baseline": "alphabetic", "color": "black"}, "encoding": {"x": {"datum": 1602, "type": "quantitative", "scale": {"domain": [500, 2500], "nice": false, "zero": false}, "title": "Raman Shift (cm\u207B\u00B9)"}, "y": {"datum": 95, "type": "quantitative", "scale": {"domain": [-40.7, 315.3], "nice": false, "zero": false}, "title": "Intensity (a.u.)"}}},
  {"data": {"values": [{}]}, "mark": {"type": "text", "text": "5", "fontSize": 19, "fontWeight": "bold", "align": "right", "baseline": "alphabetic", "color": "black", "dy": 6}, "encoding": {"x": {"datum": 2465, "type": "quantitative", "scale": {"domain": [500, 2500], "nice": false, "zero": false}, "title": "Raman Shift (cm\u207B\u00B9)"}, "y": {"datum": 283.3, "type": "quantitative", "scale": {"domain": [-40.7, 315.3], "nice": false, "zero": false}, "title": "Intensity (a.u.)"}}},
  {"data": {"values": [{}]}, "mark": {"type": "text", "text": "Sn", "fontSize": 29, "fontWeight": "bold", "align": "right", "baseline": "alphabetic", "color": "black", "dx": -10.6}, "encoding": {"x": {"datum": 2465, "type": "quantitative", "scale": {"domain": [500, 2500], "nice": false, "zero": false}, "title": "Raman Shift (cm\u207B\u00B9)"}, "y": {"datum": 283.3, "type": "quantitative", "scale": {"domain": [-40.7, 315.3], "nice": false, "zero": false}, "title": "Intensity (a.u.)"}}},
  {"data": {"values": [{}]}, "mark": {"type": "text", "text": "6", "fontSize": 19, "fontWeight": "bold", "align": "right", "baseline": "alphabetic", "color": "black", "dx": -47.6, "dy": 6}, "encoding": {"x": {"datum": 2465, "type": "quantitative", "scale": {"domain": [500, 2500], "nice": false, "zero": false}, "title": "Raman Shift (cm\u207B\u00B9)"}, "y": {"datum": 283.3, "type": "quantitative", "scale": {"domain": [-40.7, 315.3], "nice": false, "zero": false}, "title": "Intensity (a.u.)"}}},
  {"data": {"values": [{}]}, "mark": {"type": "text", "text": "Cu", "fontSize": 29, "fontWeight": "bold", "align": "right", "baseline": "alphabetic", "color": "black", "dx": -58.2}, "encoding": {"x": {"datum": 2465, "type": "quantitative", "scale": {"domain": [500, 2500], "nice": false, "zero": false}, "title": "Raman Shift (cm\u207B\u00B9)"}, "y": {"datum": 283.3, "type": "quantitative", "scale": {"domain": [-40.7, 315.3], "nice": false, "zero": false}, "title": "Intensity (a.u.)"}}}
 ]
}
]
}
